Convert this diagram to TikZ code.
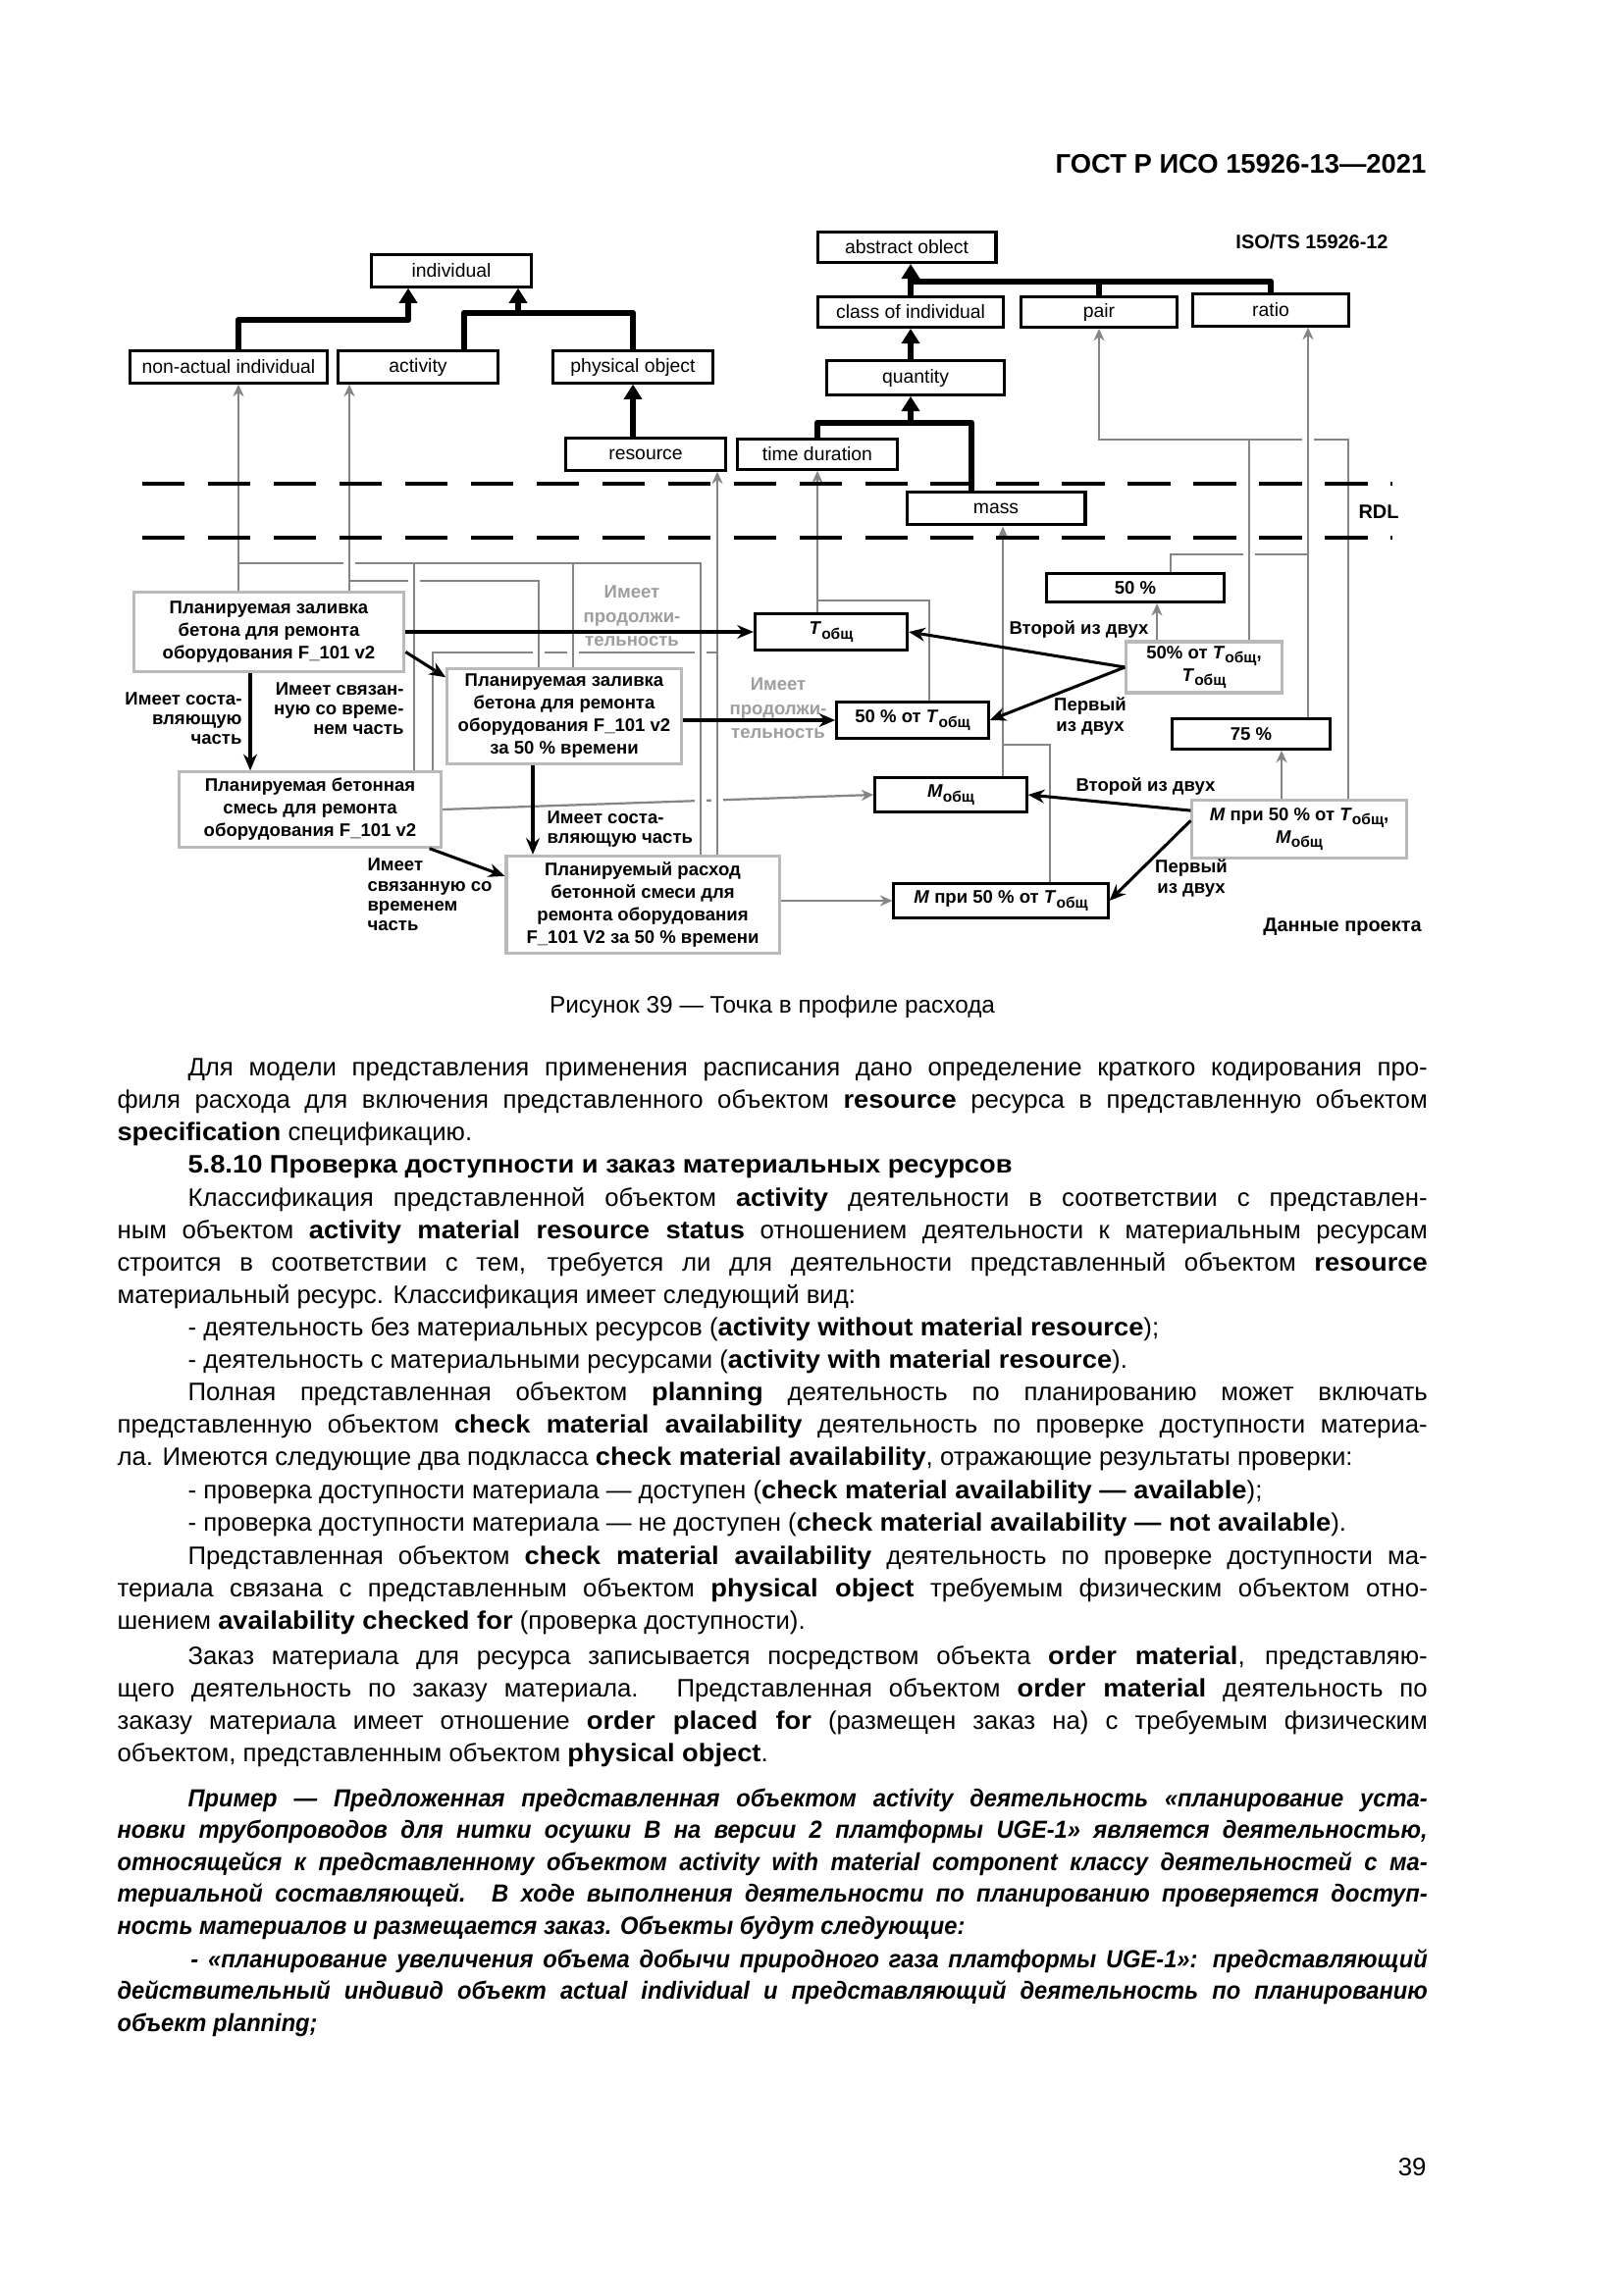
\documentclass[tikz,border=0pt]{standalone}
\usepackage{fontspec}
\setmainfont{Liberation Sans}[BoldFeatures={FakeStretch=1.06},BoldItalicFeatures={FakeStretch=0.94}]
\newfontfamily\diafont{Liberation Sans}
\usetikzlibrary{arrows.meta}
\newcommand{\Tob}{\textit{T}\raisebox{-0.45ex}{\fontsize{5.6}{6}\selectfont общ}}
\newcommand{\Mob}{\textit{M}\raisebox{-0.45ex}{\fontsize{5.6}{6}\selectfont общ}}
\newcommand{\firstind}{\hspace*{0.914cm}}
\newcommand{\parset}{\tolerance=9999\relax\hyphenpenalty=10000\relax\exhyphenpenalty=10000\relax}

\begin{document}
\begin{tikzpicture}[x=0.012697cm,y=-0.012697cm,
 rdlbox/.style={draw=black,line width=1.1pt,minimum width=2.06cm,minimum height=0.41cm,
 inner sep=1pt,font=\diafont\fontsize{7}{8}\selectfont},
 datbox/.style={rdlbox,align=center,font=\diafont\bfseries\fontsize{6.7}{8.3}\selectfont},
 plbox/.style={datbox,draw=black!27},
 lbl/.style={inner sep=0pt,font=\diafont\bfseries\fontsize{6.7}{7.3}\selectfont},
 glbl/.style={lbl,align=center,text=black!38,font=\diafont\bfseries\fontsize{6.7}{8.8}\selectfont},
 tag/.style={inner sep=0pt,font=\diafont\bfseries\fontsize{7.2}{8}\selectfont},
 gen/.style={line width=2.5pt,line join=round,-{Triangle[length=5.5pt,width=6.5pt]}},
 genl/.style={line width=2.5pt,line join=round},
 gline/.style={draw=black!48,line width=0.8pt},
 garr/.style={gline,-{Stealth[length=4.5pt,width=4pt]}},
 gap/.style={preaction={-,draw=white,line width=4pt,shorten <=3pt,shorten >=3pt}},
 barr/.style={line width=1.1pt,-{Stealth[length=6pt,width=5pt]}},
 rdlline/.style={line width=1.5pt,dash pattern=on 0.55cm off 0.3cm},
 para/.style={anchor=base west,inner sep=0pt,text width=16.95cm,align=justify,
 font=\fontsize{9.3}{11.93}\selectfont\parset},
 expara/.style={para,font=\fontsize{9.1}{11.75}\selectfont\bfseries\itshape\parset},
 line/.style={anchor=base west,inner sep=0pt,font=\fontsize{9.3}{11.93}\selectfont}]
\fill[white] (0,0) rectangle (1654,2339);

% page head
\node[anchor=base east,inner sep=0pt,font=\diafont\bfseries\fontsize{9.9}{12}\selectfont] (head) at (1454,177) {ГОСТ Р ИСО 15926-13—2021};

% RDL classes
\node[rdlbox] (indiv) at (460,276) {individual};
\node[rdlbox,minimum width=2.54cm] (nonact) at (233,374) {non-actual individual};
\node[rdlbox] (activ) at (426,374) {activity};
\node[rdlbox,minimum width=2.08cm] (physobj) at (645,374) {physical object};
\node[rdlbox] (resrc) at (658,463) {resource};
\node[rdlbox,minimum width=2.31cm,minimum height=0.39cm] (absobj) at (924,252) {abstract oblect};
\node[rdlbox,minimum width=2.41cm,minimum height=0.39cm] (classind) at (928,318) {class of individual};
\node[rdlbox,minimum width=2.01cm,minimum height=0.39cm] (pair) at (1120,318) {pair};
\node[rdlbox,minimum width=2.01cm] (ratio) at (1295,316) {ratio};
\node[rdlbox,minimum width=2.29cm,minimum height=0.44cm] (quant) at (933,385) {quantity};
\node[rdlbox,minimum width=2.07cm,minimum height=0.39cm] (timedur) at (833,463) {time duration};
\node[rdlbox,minimum width=2.31cm,minimum height=0.43cm] (mass) at (1015,518) {mass};
\node[tag] (iso) at (1337,246) {ISO/TS 15926-12};
\node[tag] (rdl) at (1405,522) {RDL};

% project data
\node[plbox,minimum width=3.50cm,minimum height=1.04cm] (pl1) at (274,644) {Планируемая заливка\\бетона для ремонта\\оборудования F\_101 v2};
\node[plbox,minimum width=3.03cm,minimum height=1.23cm] (pl50) at (575,730) {Планируемая заливка\\бетона для ремонта\\оборудования F\_101 v2\\за 50~\% времени};
\node[plbox,minimum width=3.39cm,minimum height=0.97cm] (mix) at (316,825) {Планируемая бетонная\\смесь для ремонта\\оборудования F\_101 v2};
\node[plbox,minimum width=3.53cm,minimum height=1.26cm] (cons) at (655,922) {Планируемый расход\\бетонной смеси для\\ремонта оборудования\\F\_101 V2 за 50~\% времени};
\node[datbox,minimum width=1.97cm,minimum height=0.48cm] (ttot) at (847,644) {\Tob};
\node[datbox,minimum width=1.96cm,minimum height=0.46cm] (t50) at (930,734) {50~\% от \Tob};
\node[datbox,minimum width=1.96cm,minimum height=0.44cm] (mtot) at (969,810) {\Mob};
\node[datbox,minimum width=2.77cm,minimum height=0.44cm] (m50) at (1020,918) {\textit{M} при 50~\% от \Tob};
\node[datbox,minimum width=2.30cm,minimum height=0.37cm] (p50) at (1157,599) {50~\%};
\node[datbox,minimum width=2.04cm,minimum height=0.39cm] (p75) at (1275,748) {75~\%};
\node[plbox,minimum width=2.01cm,minimum height=0.66cm] (pairT) at (1227,680) {50\% от \Tob,\\\Tob};
\node[plbox,minimum width=2.77cm,minimum height=0.74cm] (pairM) at (1324,845) {\textit{M} при 50~\% от \Tob,\\\Mob};
\node[tag] (proj) at (1368,945) {Данные проекта};

% relation labels
\node[glbl] (durA) at (644,628) {Имеет\\продолжи-\\тельность};
\node[glbl] (durB) at (793,722) {Имеет\\продолжи-\\тельность};
\node[lbl,align=right,anchor=east] (compA) at (247,732) {Имеет соста-\\вляющую\\часть};
\node[lbl,align=right,anchor=east] (tempA) at (412,722) {Имеет связан-\\ную со време-\\нем часть};
\node[lbl,align=left,anchor=west] (compB) at (557,845) {Имеет соста-\\вляющую часть};
\node[lbl,align=left,anchor=west] (tempB) at (374,912) {Имеет\\связанную со\\временем\\часть};
\node[lbl,anchor=west] (secA) at (1028,642) {Второй из двух};
\node[lbl,align=center] (firA) at (1111,730) {Первый\\из двух};
\node[lbl,anchor=west] (secB) at (1096,802) {Второй из двух};
\node[lbl,align=center] (firB) at (1214,895) {Первый\\из двух};

% junctions of the classification lines
\coordinate (jNA) at (243,574);
\coordinate (jNAe) at (714,574);
\coordinate (jAC) at (356,592);
\coordinate (jRS) at (731,665);
\coordinate (jTD) at (833,612);
\coordinate (jMS) at (1022,759);
\coordinate (jPR) at (1273,448);
\coordinate (jPRe) at (1374,448);
\coordinate (jRT) at (1333,565);

% classification (grey), drawn so that the later lines cut the earlier ones
\draw[garr] (pl1.north -| jNA) -- (nonact.south -| jNA);
\draw[garr] (mix.east) -- (mtot.west);
\draw[garr,gap] (cons.north -| jRS) -- (resrc.south -| jRS);
\draw[gline] (jRS) -| (mix.north -| 441,0);
\draw[gline,gap] (jNA) -- (jNAe) -- (cons.north -| jNAe);
\draw[garr,gap] (pl1.north -| jAC) -- (activ.south -| jAC);
\draw[gline,gap] (jAC) -| (pl50.north -| 549,0);
\draw[gline,gap] (jNA -| 584,0) -- (pl50.north -| 584,0);
\draw[gline,gap] (jNA -| 422,0) -- (mix.north -| 422,0);
\draw[garr] (ttot.north -| jTD) -- (timedur.south -| jTD);
\draw[gline] (jTD) -| (t50.north -| 947,0);
\draw[garr] (mtot.north -| jMS) -- (mass.south -| jMS);
\draw[gline] (jMS) -| (m50.north -| 1070,0);
\draw[gline] (jPR) -- (jPRe) -- (pairM.north -| jPRe);
\draw[garr,gap] (p75.north -| jRT) -- (ratio.south -| jRT);
\draw[gline] (jRT) -| (p50.north -| 1193,0);
\draw[gline,gap] (pairT.north -| jPR) -- (jPR);
\draw[garr] (jPR) -| (pair.south);
\draw[garr] (pairT.north -| 1179,0) -- (p50.south -| 1179,0);
\draw[garr] (pairM.north -| 1306,0) -- (p75.south -| 1306,0);
\draw[garr] (cons.east |- m50.west) -- (m50.west);

% specialization (thick)
\draw[gen] (nonact.north -| 243,0) |- (416,326) -- (indiv.south -| 416,0);
\draw[genl] (activ.north -| 473,0) |- (physobj.north |- 0,319) -- (physobj.north);
\draw[gen] (528,319) -- (indiv.south -| 528,0);
\draw[gen] (resrc.north -| physobj.south) -- (physobj.south);
\draw[gen] (classind.north) -- (absobj.south -| classind.north);
\draw[genl] (classind.north |- 0,287) -| (ratio.north);
\draw[genl] (pair.north |- 0,287) -- (pair.north);
\draw[gen] (quant.north -| 928,0) -- (classind.south -| 928,0);
\draw[genl] (timedur.north) |- (990,431) -- (mass.north -| 990,0);
\draw[gen] (928,431) -- (quant.south -| 928,0);

% relations between the data (black)
\draw[barr] (pl1.east) -- (ttot.west);
\draw[barr] (pl50.east |- t50.west) -- (t50.west);
\draw[barr] (pl1.south -| 255,0) -- (mix.north -| 255,0);
\draw[barr] ([yshift=0.28cm]pl1.south east) -- ([yshift=-0.13cm]pl50.north west);
\draw[barr] (pl50.south -| 543,0) -- (cons.north -| 543,0);
\draw[barr] ([xshift=-0.17cm]mix.south east) -- ([yshift=-0.28cm]cons.north west);
\draw[barr] (pairT.west) -- (ttot.east);
\draw[barr] (pairT.west) -- (t50.east);
\draw[barr] ([yshift=0.24cm]pairM.west) -- (mtot.east);
\draw[barr] ([yshift=0.11cm]pairM.west) -- (m50.east);

% RDL borders
\draw[rdlline] (145,493) -- (1419,493);
\draw[rdlline] (145,548) -- (1419,548);

% caption
\node[anchor=base,inner sep=0pt,font=\fontsize{8.8}{11}\selectfont] (capt) at (787,1032) {Рисунок 39 — Точка в профиле расхода};

% text of the page
\node[para] (p1) at (119,1096) {\firstind Для модели представления применения расписания дано определение краткого кодирования про-\linebreak филя расхода для включения представленного объектом \textbf{resource} ресурса в представленную объектом\linebreak \textbf{specification} спецификацию.};
\node[line] (sect) at (191,1195) {\textbf{5.8.10 Проверка доступности и заказ материальных ресурсов}};
\node[para] (p2) at (119,1229) {\firstind Классификация представленной объектом \textbf{activity} деятельности в соответствии с представлен-\linebreak ным объектом \textbf{activity material resource status} отношением деятельности к материальным ресурсам\linebreak строится в соответствии с тем, требуется ли для деятельности представленный объектом \textbf{resource}\linebreak материальный ресурс. Классификация имеет следующий вид:};
\node[line] (i1) at (191,1361) {- деятельность без материальных ресурсов (\textbf{activity without material resource});};
\node[line] (i2) at (191,1394) {- деятельность с материальными ресурсами (\textbf{activity with material resource}).};
\node[para] (p3) at (119,1427) {\firstind Полная представленная объектом \textbf{planning} деятельность по планированию может включать\linebreak представленную объектом \textbf{check material availability} деятельность по проверке доступности материа-\linebreak ла. Имеются следующие два подкласса \textbf{check material availability}, отражающие результаты проверки:};
\node[line] (i3) at (191,1527) {- проверка доступности материала — доступен (\textbf{check material availability — available});};
\node[line] (i4) at (191,1560) {- проверка доступности материала — не доступен (\textbf{check material availability — not available}).};
\node[para] (p4) at (119,1594) {\firstind Представленная объектом \textbf{check material availability} деятельность по проверке доступности ма-\linebreak териала связана с представленным объектом \textbf{physical object} требуемым физическим объектом отно-\linebreak шением \textbf{availability checked for} (проверка доступности).};
\node[para] (p5) at (119,1696) {\firstind Заказ материала для ресурса записывается посредством объекта \textbf{order material}, представляю-\linebreak щего деятельность по заказу материала. Представленная объектом \textbf{order material} деятельность по\linebreak заказу материала имеет отношение \textbf{order placed for} (размещен заказ на) с требуемым физическим\linebreak объектом, представленным объектом \textbf{physical object}.};
\node[expara] (ex) at (119,1841) {\firstind Пример — Предложенная представленная объектом activity деятельность «планирование уста-\linebreak новки трубопроводов для нитки осушки B на версии 2 платформы UGE-1» является деятельностью,\linebreak относящейся к представленному объектом activity with material component классу деятельностей с ма-\linebreak териальной составляющей. В ходе выполнения деятельности по планированию проверяется доступ-\linebreak ность материалов и размещается заказ. Объекты будут следующие:};
\node[expara] (exi) at (119,2005) {\hspace*{0.95cm}- «планирование увеличения объема добычи природного газа платформы UGE-1»: представляющий\linebreak действительный индивид объект actual individual и представляющий деятельность по планированию\linebreak объект planning;};

% page number
\node[anchor=base east,inner sep=0pt,font=\fontsize{9.3}{11}\selectfont] (pgno) at (1454,2217) {39};
\end{tikzpicture}
\end{document}
